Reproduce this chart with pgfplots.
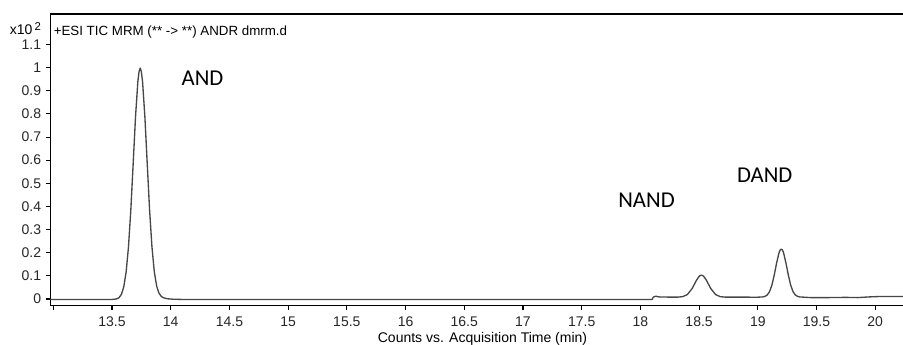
\documentclass[border=0pt]{standalone}
\usepackage{fontspec}
\setmainfont{Liberation Sans}
\newfontfamily\calib{Carlito}
\usepackage{pgfplots}
\pgfplotsset{compat=1.18}
\usetikzlibrary{calc}
\begin{document}
\begin{tikzpicture}[x=0.75pt,y=0.75pt]
\begin{axis}[
  name=ax,
  scale only axis, width=639.4pt, height=218.8pt,
  xmin=12.976, xmax=20.237, ymin=-0.029, ymax=1.232,
  axis x line*=bottom, axis y line*=left,
  axis line style={line width=1.1pt,-},
  xtick={13,13.5,14,14.5,15,15.5,16,16.5,17,17.5,18,18.5,19,19.5,20},
  xticklabels={,13.5,14,14.5,15,15.5,16,16.5,17,17.5,18,18.5,19,19.5,20},
  ytick={0,0.1,0.2,0.3,0.4,0.5,0.6,0.7,0.8,0.9,1,1.1},
  yticklabels={0,0.1,0.2,0.3,0.4,0.5,0.6,0.7,0.8,0.9,1,1.1},
  tick align=outside, major tick length=3.5pt,
  tick style={black, line width=0.8pt},
  ticklabel style={font=\fontsize{10.5}{12}\selectfont, text=black!85},
  xticklabel style={yshift=-1pt},
  /pgf/number format/assume math mode=true,
  clip=false,
]
\addplot[black!72, line width=1pt, line join=round] coordinates {
(12.976,-0.002) (13.50,-0.002) (13.52,-0.001) (13.54,0.0006) (13.56,0.006)
(13.58,0.020) (13.60,0.052) (13.62,0.116) (13.64,0.224) (13.66,0.384)
(13.68,0.584) (13.70,0.786) (13.72,0.940) (13.73,0.982) (13.74,0.998) (13.75,0.982) (13.76,0.940)
(13.78,0.786) (13.80,0.584) (13.82,0.384) (13.84,0.226) (13.86,0.118)
(13.88,0.056) (13.90,0.025) (13.92,0.011) (13.94,0.005) (13.97,0.001)
(14.02,-0.001) (14.10,-0.002) (18.10,-0.002) (18.11,0.008) (18.13,0.012)
(18.16,0.009) (18.25,0.008) (18.32,0.0082) (18.36,0.0101) (18.40,0.0192)
(18.44,0.0447) (18.48,0.0829) (18.50,0.0975) (18.51,0.1016) (18.52,0.103) (18.53,0.1016) (18.54,0.0975)
(18.56,0.0829) (18.60,0.0447) (18.64,0.0192) (18.68,0.0101) (18.72,0.0082)
(18.80,0.008) (19.00,0.0078) (19.04,0.0088) (19.06,0.011) (19.08,0.0172)
(19.10,0.0317) (19.12,0.0598) (19.14,0.1033) (19.16,0.155) (19.18,0.1987)
(19.19,0.2115) (19.20,0.216) (19.21,0.2115) (19.22,0.1987) (19.24,0.155) (19.26,0.1033) (19.28,0.0598)
(19.30,0.0317) (19.32,0.0172) (19.34,0.011) (19.36,0.0088) (19.45,0.006)
(19.60,0.006) (19.75,0.007) (19.85,0.006) (19.95,0.009) (20.05,0.011)
(20.237,0.011)
};
\draw[line width=1.1pt] (rel axis cs:0,1) -- (rel axis cs:1,1);
\coordinate (O) at (rel axis cs:0,0);
\end{axis}
\pgfresetboundingbox
\path[use as bounding box] ($(O)+(-50.5,-39.3)$) rectangle ($(O)+(852.5,305.7)$);
\node[anchor=base west, inner sep=0, font=\fontsize{10}{12}\selectfont] at ($(O)+(3,269.7)$) {+ESI TIC MRM (** -> **) ANDR dmrm.d};
\node[anchor=base west, inner sep=0, font=\fontsize{10.5}{12}\selectfont] at ($(O)+(-41,270.7)$) {x10\,\raisebox{3pt}{\fontsize{8.5}{9}\selectfont 2}};
\node[anchor=base, inner sep=0, font=\fontsize{10.5}{12}\selectfont] at ($(O)+(432,-36.8)$) {Counts vs. Acquisition Time (min)};
\node[font=\calib\fontsize{17}{20}\selectfont] at ($(O)+(152,227.7)$) {AND};
\node[font=\calib\fontsize{17}{20}\selectfont] at ($(O)+(596,105.2)$) {NAND};
\node[font=\calib\fontsize{17}{20}\selectfont] at ($(O)+(714.2,130.2)$) {DAND};
\end{tikzpicture}
\end{document}
